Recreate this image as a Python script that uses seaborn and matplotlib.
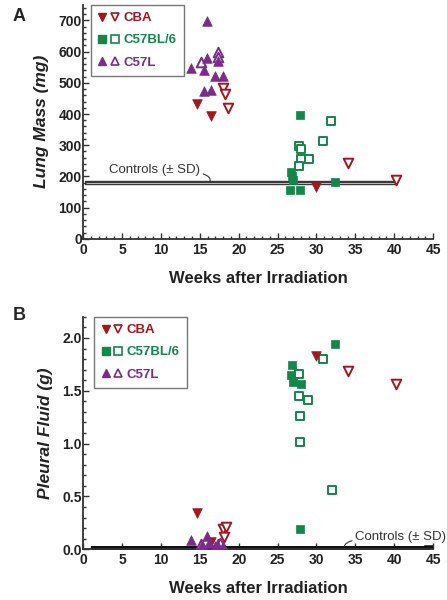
import matplotlib
matplotlib.use("Agg")
import matplotlib.pyplot as plt
import seaborn as sns
import pandas as pd
from matplotlib.lines import Line2D
from matplotlib.legend_handler import HandlerTuple
from matplotlib.ticker import MultipleLocator

# ---------------- data ----------------
strains = ["CBA", "C57BL/6", "C57L"]

# Panel A: lung mass (mg)
lung_cba_filled_x = [14.7, 16.4, 29.9]
lung_cba_filled_y = [432, 394, 165]
lung_cba_open_x = [18.0, 18.2, 18.6, 34.1, 40.2]
lung_cba_open_y = [482, 464, 419, 244, 188]
lung_b6_filled_x = [27.9, 26.7, 26.9, 27.0, 26.6, 27.9, 32.4]
lung_b6_filled_y = [396, 215, 200, 190, 156, 156, 183]
lung_b6_open_x = [27.7, 28.0, 28.0, 29.0, 27.7, 30.8, 31.9]
lung_b6_open_y = [298, 287, 257, 255, 233, 314, 376]
lung_c57l_filled_x = [13.9, 15.9, 15.9, 15.5, 15.6, 16.4, 16.9, 17.4, 18.0]
lung_c57l_filled_y = [546, 697, 580, 540, 474, 478, 521, 571, 521]
lung_c57l_open_x = [15.1, 17.4, 17.4]
lung_c57l_open_y = [566, 598, 582]
lung_control_mean = 181
lung_control_sd = 5.5

# Panel B: pleural fluid (g)
fluid_cba_filled_x = [14.7, 16.4, 29.9]
fluid_cba_filled_y = [0.34, 0.07, 1.83]
fluid_cba_open_x = [18.0, 18.4, 18.1, 34.1, 40.2]
fluid_cba_open_y = [0.19, 0.215, 0.115, 1.69, 1.56]
fluid_b6_filled_x = [32.4, 26.8, 26.7, 27.0, 28.0, 27.9]
fluid_b6_filled_y = [1.94, 1.74, 1.65, 1.58, 1.56, 0.19]
fluid_b6_open_x = [27.8, 30.9, 27.8, 28.9, 27.9, 27.9, 32.0]
fluid_b6_open_y = [1.66, 1.80, 1.45, 1.41, 1.26, 1.02, 0.56]
fluid_c57l_filled_x = [13.9, 15.9, 15.3, 16.2, 16.9, 17.4, 18.0]
fluid_c57l_filled_y = [0.09, 0.13, 0.04, 0.06, 0.03, 0.03, 0.03]
fluid_c57l_open_x = [15.1, 17.4, 17.6]
fluid_c57l_open_y = [0.05, 0.05, 0.06]
fluid_control_mean = 0.01
fluid_control_sd = 0.005

# ---------------- style ----------------
sns.set_style("ticks")
plt.rcParams["font.family"] = ["Liberation Sans", "DejaVu Sans"]

colors = {"CBA": "#A3171F", "C57BL/6": "#13874A", "C57L": "#7B2B8C"}
markers = {"CBA": "v", "C57BL/6": "s", "C57L": "^"}
sizes = {"CBA": 48, "C57BL/6": 40, "C57L": 48}

fig = plt.figure(figsize=(4.47, 6.0), dpi=100)
axA = fig.add_axes([0.186, 0.602, 0.783, 0.390])
axB = fig.add_axes([0.186, 0.0845, 0.783, 0.3875])


def draw(ax, groups):
    for strain, fx, fy, ox, oy in groups:
        c = colors[strain]
        df_f = pd.DataFrame({"x": fx, "y": fy})
        df_o = pd.DataFrame({"x": ox, "y": oy})
        sns.scatterplot(data=df_o, x="x", y="y", ax=ax, marker=markers[strain],
                        s=sizes[strain], facecolor="white", edgecolor=c,
                        linewidth=1.4, zorder=3, legend=False)
        sns.scatterplot(data=df_f, x="x", y="y", ax=ax, marker=markers[strain],
                        s=sizes[strain], color=c, edgecolor=c,
                        linewidth=0.5, zorder=4, legend=False)


draw(axA, [
    ("C57L", lung_c57l_filled_x, lung_c57l_filled_y, lung_c57l_open_x, lung_c57l_open_y),
    ("CBA", lung_cba_filled_x, lung_cba_filled_y, lung_cba_open_x, lung_cba_open_y),
    ("C57BL/6", lung_b6_filled_x, lung_b6_filled_y, lung_b6_open_x, lung_b6_open_y),
])
draw(axB, [
    ("CBA", fluid_cba_filled_x, fluid_cba_filled_y, fluid_cba_open_x, fluid_cba_open_y),
    ("C57BL/6", fluid_b6_filled_x, fluid_b6_filled_y, fluid_b6_open_x, fluid_b6_open_y),
    ("C57L", fluid_c57l_filled_x, fluid_c57l_filled_y, fluid_c57l_open_x, fluid_c57l_open_y),
])

# control bands
for v in (lung_control_mean - lung_control_sd, lung_control_mean, lung_control_mean + lung_control_sd):
    axA.plot([0.3, 40.3], [v, v], color="#3a3a3a", lw=1.0, zorder=2)
axA.annotate("Controls (\u00b1 SD)", xy=(16.3, lung_control_mean + 2), xytext=(3.3, 222),
             fontsize=9.5, color="#333333", va="center", ha="left",
             arrowprops=dict(arrowstyle="-", color="#333333", lw=0.8,
                             shrinkA=0, shrinkB=0,
                             connectionstyle="angle3,angleA=0,angleB=70"))

axB.fill_between([1.0, 44.6], fluid_control_mean - fluid_control_sd - 0.013,
                 fluid_control_mean + fluid_control_sd + 0.013, color="#111111", lw=0, zorder=2)
axB.plot([44.2, 45], [fluid_control_mean] * 2, color="#111111", lw=4,
         solid_capstyle="projecting", zorder=2)
axB.annotate("Controls (\u00b1 SD)", xy=(33.6, fluid_control_mean + 0.02), xytext=(35.0, 0.12),
             fontsize=9.5, color="#333333", va="center", ha="left",
             arrowprops=dict(arrowstyle="-", color="#333333", lw=0.8,
                             shrinkA=0, shrinkB=0,
                             connectionstyle="angle3,angleA=0,angleB=80"))

# axes formatting
for ax in (axA, axB):
    ax.set_xlim(0, 45)
    ax.xaxis.set_major_locator(MultipleLocator(5))
    ax.xaxis.set_minor_locator(MultipleLocator(1))
    ax.tick_params(which="both", direction="in", width=1.0, colors="#333333",
                   labelcolor="#222222", labelsize=10)
    ax.tick_params(which="major", length=4)
    ax.tick_params(which="minor", length=2.5)
    ax.tick_params(axis="x", pad=3)
    ax.tick_params(axis="y", pad=1)
    sns.despine(ax=ax)
    for sp in ("left", "bottom"):
        ax.spines[sp].set_linewidth(1.3)
        ax.spines[sp].set_color("#333333")
    ax.set_xlabel("Weeks after Irradiation", fontsize=12, fontweight="bold",
                  color="#222222", labelpad=10)

axA.set_ylim(0, 750)
axA.yaxis.set_major_locator(MultipleLocator(100))
axA.yaxis.set_minor_locator(MultipleLocator(20))
axA.set_ylabel("Lung Mass (mg)", fontsize=12.5, fontweight="bold", style="italic",
               color="#222222", labelpad=7)

axB.set_ylim(0, 2.2)
axB.yaxis.set_major_locator(MultipleLocator(0.5))
axB.yaxis.set_minor_locator(MultipleLocator(0.1))
axB.yaxis.set_major_formatter(matplotlib.ticker.FormatStrFormatter("%.1f"))
axB.set_ylabel("Pleural Fluid (g)", fontsize=12.5, fontweight="bold", style="italic",
               color="#222222", labelpad=7)
for ax in (axA, axB):
    for lab in ax.get_xticklabels() + ax.get_yticklabels():
        lab.set_fontweight("bold")


def make_legend(ax, anchor):
    handles = []
    for s in strains:
        c = colors[s]
        filled = Line2D([], [], ls="", marker=markers[s], color=c, markersize=5.5)
        opened = Line2D([], [], ls="", marker=markers[s], markerfacecolor="white",
                        markeredgecolor=c, markeredgewidth=1.2, markersize=5.5)
        handles.append((filled, opened))
    leg = ax.legend(handles, strains, handler_map={tuple: HandlerTuple(ndivide=None, pad=0.3)},
                    loc="upper left", bbox_to_anchor=anchor, frameon=True, fancybox=False,
                    framealpha=1.0, edgecolor="#777777", handlelength=1.6,
                    handletextpad=0.35, labelspacing=0.75, borderpad=0.55,
                    borderaxespad=0.0, prop={"weight": "bold", "size": 9.5})
    leg.get_frame().set_linewidth(1.0)
    leg.set_zorder(10)
    for t, s in zip(leg.get_texts(), strains):
        t.set_color(colors[s])
    return leg


make_legend(axA, (0.022, 1.0))
make_legend(axB, (0.031, 1.0))

fig.text(0.028, 0.972, "A", fontsize=13, fontweight="bold", va="center", ha="left")
fig.text(0.028, 0.475, "B", fontsize=13, fontweight="bold", va="center", ha="left")

fig.savefig("out.png", dpi=100)
